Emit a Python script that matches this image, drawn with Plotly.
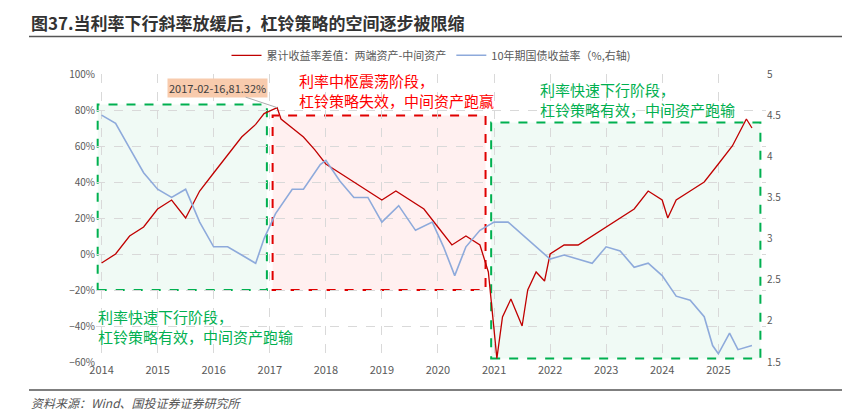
import plotly.graph_objects as go
import pandas as pd

spread_t = [2014.0,2014.25,2014.5,2014.75,2015.0,2015.25,2015.5,2015.75,2016.0,2016.25,2016.5,2016.75,2016.9,2017.13,2017.2,2017.4,2017.6,2017.8,2018.0,2018.25,2018.5,2018.75,2019.0,2019.25,2019.5,2019.75,2020.0,2020.25,2020.5,2020.75,2020.9,2021.0,2021.05,2021.15,2021.3,2021.5,2021.6,2021.75,2021.9,2022.0,2022.25,2022.5,2022.75,2023.0,2023.25,2023.5,2023.75,2024.0,2024.1,2024.25,2024.5,2024.75,2025.0,2025.25,2025.5,2025.6]
spread_v = [-5,0,10,15,25,30,20,35,45,55,65,72,78,81.32,75,70,65,58,50,45,40,35,30,35,30,25,15,5,10,5,-10,-40,-58,-35,-25,-40,-20,-10,-15,0,5,5,10,15,20,25,35,30,20,30,35,40,50,60,75,70]
yield_t = [2014.0,2014.25,2014.5,2014.75,2015.0,2015.25,2015.5,2015.75,2016.0,2016.25,2016.5,2016.75,2016.9,2017.1,2017.4,2017.6,2017.9,2018.0,2018.25,2018.5,2018.75,2019.0,2019.3,2019.6,2019.9,2020.1,2020.3,2020.5,2020.75,2021.0,2021.25,2021.5,2021.75,2022.0,2022.25,2022.5,2022.75,2023.0,2023.25,2023.5,2023.75,2024.0,2024.25,2024.5,2024.75,2024.9,2025.0,2025.2,2025.35,2025.6]
yield_v = [4.5,4.4,4.1,3.8,3.6,3.5,3.6,3.2,2.9,2.9,2.8,2.7,3.0,3.3,3.6,3.6,3.9,3.95,3.7,3.5,3.5,3.2,3.4,3.1,3.2,2.9,2.55,2.9,3.1,3.2,3.2,3.05,2.9,2.75,2.8,2.75,2.7,2.9,2.85,2.65,2.7,2.55,2.3,2.25,2.05,1.7,1.6,1.85,1.65,1.7]

def to_date(ts):
    out = []
    for t in ts:
        y = int(t)
        out.append(pd.Timestamp(f"{y}-01-01") + pd.Timedelta(days=(t - y) * 365.25))
    return out

fig = go.Figure()
fig.add_trace(go.Scatter(x=to_date(spread_t), y=spread_v, mode="lines", line=dict(color="#C00000", width=1.3),
                         name="累计收益率差值：两端资产-中间资产"))
fig.add_trace(go.Scatter(x=to_date(yield_t), y=yield_v, mode="lines", line=dict(color="#8EAADB", width=1.6),
                         name="10年期国债收益率（%,右轴)", yaxis="y2"))

def d(t): return to_date([t])[0]
boxes = [(2013.93, 2016.95, -20, 83, "#00B050", "rgba(0,176,80,0.06)"),
         (2017.05, 2020.85, -20, 77, "#E00000", "rgba(255,0,0,0.06)"),
         (2020.95, 2025.75, -58, 73, "#00B050", "rgba(0,176,80,0.06)")]
for x0, x1, y0, y1, c, f in boxes:
    fig.add_shape(type="rect", x0=d(x0), x1=d(x1), y0=y0, y1=y1, xref="x", yref="y",
                  line=dict(color=c, width=2, dash="dash"), fillcolor=f, layer="below")

fig.add_annotation(x=d(2017.13), y=81.32, ax=-60, ay=-20, text="2017-02-16,81.32%", showarrow=True,
                   arrowhead=0, arrowcolor="#aaaaaa", arrowwidth=1, bgcolor="#F8CBAD",
                   font=dict(size=11, color="#404040"))
fig.add_annotation(xref="paper", yref="paper", x=0.3, y=1.02, xanchor="left", yanchor="top", showarrow=False, align="left",
                   text="利率中枢震荡阶段，<br>杠铃策略失效，中间资产跑赢", font=dict(size=15, color="#FF0000"))
fig.add_annotation(xref="paper", yref="paper", x=0.66, y=0.99, xanchor="left", yanchor="top", showarrow=False, align="left",
                   text="利率快速下行阶段，<br>杠铃策略有效，中间资产跑输", font=dict(size=15, color="#00B050"))
fig.add_annotation(xref="paper", yref="paper", x=0.0, y=0.2, xanchor="left", yanchor="top", showarrow=False, align="left",
                   text="利率快速下行阶段，<br>杠铃策略有效，中间资产跑输", font=dict(size=15, color="#00B050"))

fig.add_annotation(xref="paper", yref="paper", x=-0.1, y=1.18, xanchor="left", yanchor="middle", showarrow=False,
                   text="<b>图37.当利率下行斜率放缓后，杠铃策略的空间逐步被限缩</b>", font=dict(size=17, color="#333333"))
fig.add_annotation(xref="paper", yref="paper", x=-0.1, y=-0.14, xanchor="left", yanchor="middle", showarrow=False,
                   text="<i>资料来源：Wind、国投证券证券研究所</i>", font=dict(size=12, color="#555555"))
fig.add_shape(type="line", xref="paper", yref="paper", x0=-0.1, x1=1.13, y0=1.13, y1=1.13, line=dict(color="#555", width=1.5))
fig.add_shape(type="line", xref="paper", yref="paper", x0=-0.1, x1=1.13, y0=-0.097, y1=-0.097, line=dict(color="#555", width=1.5))

fig.update_layout(
    width=850, height=411, margin=dict(l=88, r=92, t=66, b=57),
    paper_bgcolor="white", plot_bgcolor="white",
    font=dict(family="Noto Sans CJK SC", size=10, color="#595959"),
    legend=dict(orientation="h", x=0.5, xanchor="center", y=1.065, yanchor="middle", font=dict(size=11)),
    xaxis=dict(type="date", range=[d(2013.9), d(2025.85)], dtick="M12", tickformat="%Y",
               showgrid=True, gridcolor="#d9d9d9", griddash="dash", ticks="", tickfont=dict(size=11)),
    yaxis=dict(range=[-60, 100], dtick=20, ticksuffix="%", showgrid=True, gridcolor="#d9d9d9",
               griddash="dash", zeroline=False),
    yaxis2=dict(range=[1.5, 5], dtick=0.5, overlaying="y", side="right", showgrid=False, zeroline=False),
    showlegend=True,
)
fig.write_html("out.html")
